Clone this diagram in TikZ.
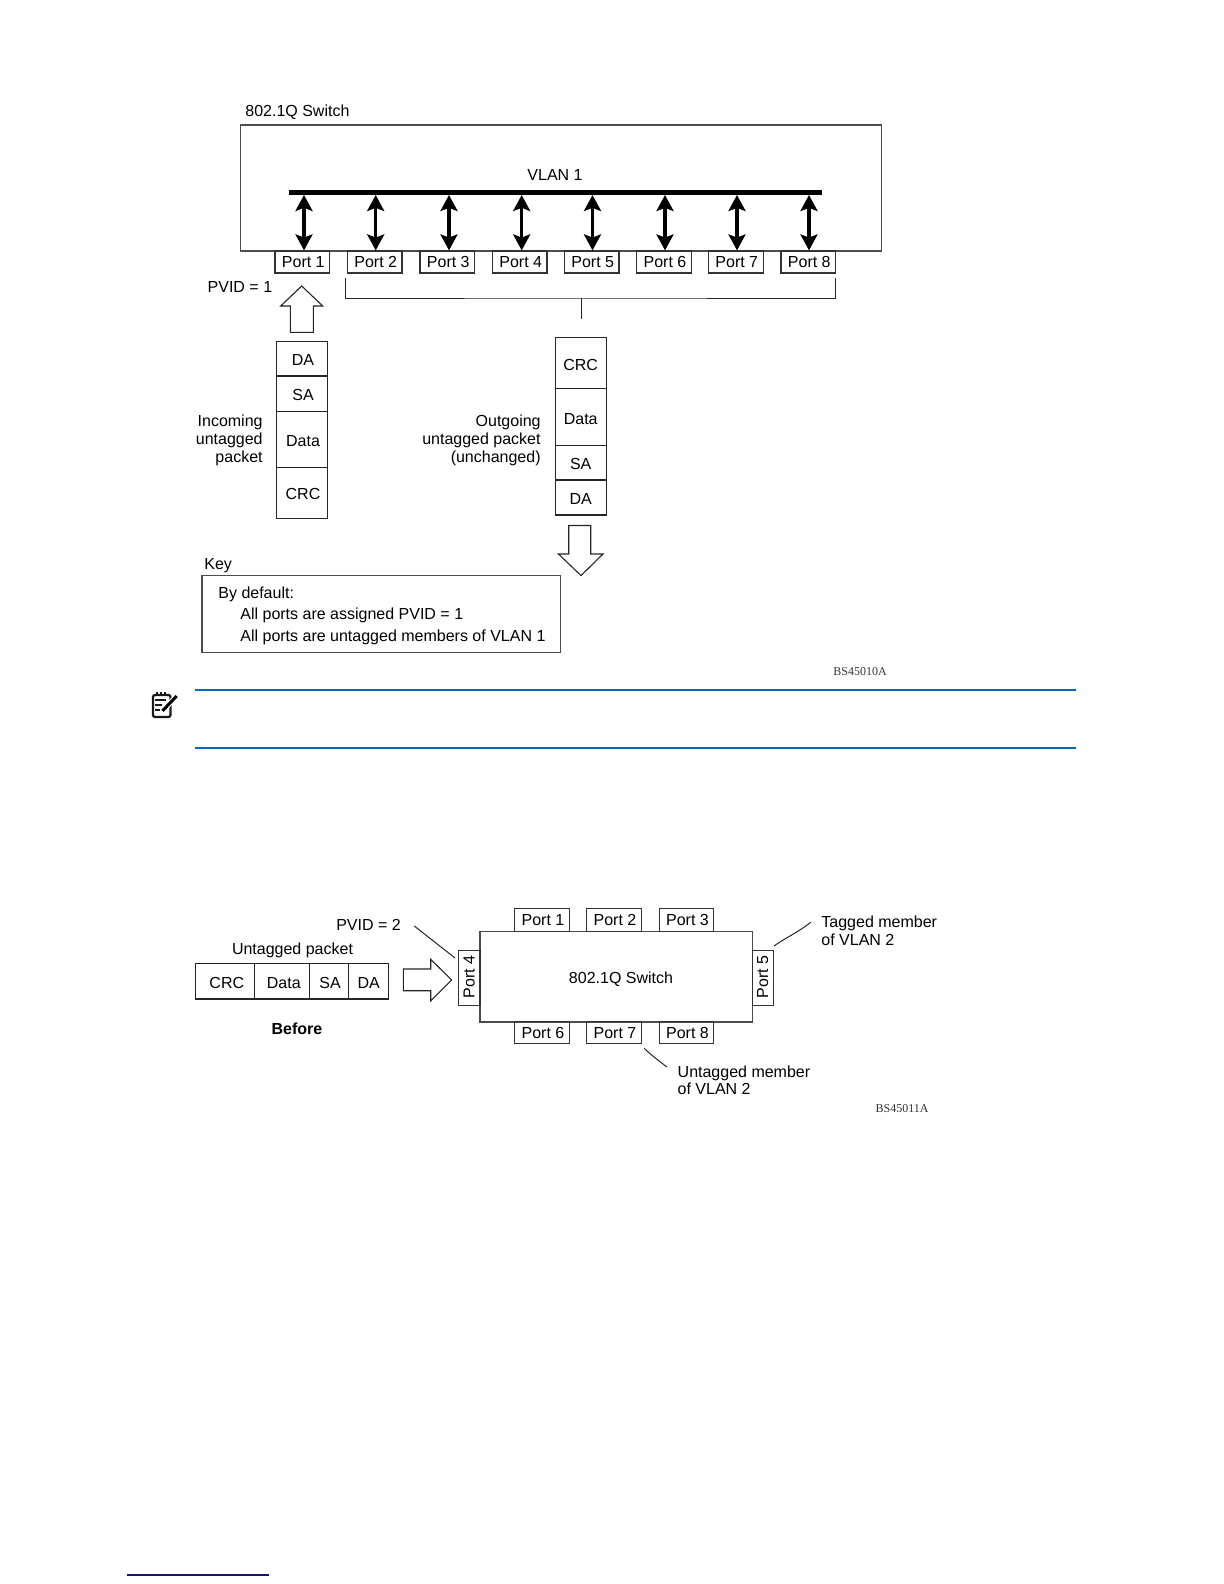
\documentclass[tikz,border=0pt]{standalone}
\usepackage{fontspec}
\setmainfont{Liberation Sans}
\newfontfamily\codefont{Liberation Serif}
\usetikzlibrary{arrows.meta}

\definecolor{noteblue}{RGB}{10,104,190}
\definecolor{footnavy}{RGB}{20,15,135}

\tikzset{
  lbl/.style={inner sep=0pt,font=\fontsize{8bp}{8.85bp}\selectfont},
  codelbl/.style={inner sep=0pt,font=\fontsize{6bp}{7bp}\selectfont\codefont,text=black!80},
  nudge/.style={execute at begin node={\kern#1}},
  portbox/.style={draw=black!80,line width=0.6bp,inner sep=0pt,minimum width=27.3bp,minimum height=11bp,font=\fontsize{8bp}{9bp}\selectfont,nudge=1bp},
  sideport/.style={portbox,rotate=90},
  cellbox/.style={draw=black!85,line width=0.6bp,inner sep=0pt,minimum width=25.4bp,text height=6.8bp,text depth=0pt,font=\fontsize{8bp}{9bp}\selectfont},
  swbox/.style={draw=black!70,line width=0.8bp,inner sep=0pt},
  busarrow/.style={{Stealth[length=8bp,width=8.5bp,inset=1.6bp]}-{Stealth[length=8bp,width=8.5bp,inset=1.6bp]},line width=1.7bp},
  thinline/.style={draw=black!85,line width=0.5bp},
  blockarrow/.style={draw=black!85,line width=0.55bp,fill=white,line join=miter},
  noterule/.style={draw=noteblue,line width=1bp}
}

\begin{document}
\begin{tikzpicture}[x=0.5bp,y=-0.5bp]
  \useasboundingbox (0,0) rectangle (1224,1584);

  % upper switch
  \node[lbl,anchor=west] (swtitle) at (245,112.5) {802.1Q Switch};
  \node[swbox,minimum width=320.5bp,minimum height=63bp] (sw) at (561,187.7) {};
  \node[lbl] (vlan) at (555,174.5) {VLAN 1};
  \node[minimum width=266.5bp,minimum height=2.2bp,inner sep=0pt,fill=black] (bus) at (555.5,192.3) {};

  \node[portbox] (port1) at (302.3,262) {Port 1};
  \node[portbox] (port2) at (374.7,262) {Port 2};
  \node[portbox] (port3) at (447.3,262) {Port 3};
  \node[portbox] (port4) at (519.7,262) {Port 4};
  \node[portbox] (port5) at (591.7,262) {Port 5};
  \node[portbox] (port6) at (664,262) {Port 6};
  \node[portbox] (port7) at (735.8,262) {Port 7};
  \node[portbox] (port8) at (808.3,262) {Port 8};

  \coordinate (tap1) at (304,195);
  \coordinate (tap2) at (375.7,195);
  \coordinate (tap3) at (449,195);
  \coordinate (tap4) at (521.7,195);
  \coordinate (tap5) at (592.5,195);
  \coordinate (tap6) at (665,195);
  \coordinate (tap7) at (737,195);
  \coordinate (tap8) at (809,195);

  \draw[busarrow,line width=2.4bp] (tap1) -- (tap1 |- port1.north);
  \draw[busarrow] (tap2) -- (tap2 |- port2.north);
  \draw[busarrow] (tap3) -- (tap3 |- port3.north);
  \draw[busarrow] (tap4) -- (tap4 |- port4.north);
  \draw[busarrow] (tap5) -- (tap5 |- port5.north);
  \draw[busarrow] (tap6) -- (tap6 |- port6.north);
  \draw[busarrow] (tap7) -- (tap7 |- port7.north);
  \draw[busarrow] (tap8) -- (tap8 |- port8.north);

  \node[lbl,anchor=west] (pvidone) at (207.3,287) {PVID = 1};

  % bracket over the outgoing packet
  \coordinate (brl) at (345,278);
  \coordinate (brr) at (835,278);
  \coordinate (brm) at (581,298);
  \coordinate (brend) at (581,318.7);
  \draw[thinline] (brl) |- (brm) -| (brr);
  \draw[thinline] (brm) -- (brend);

  % incoming packet
  \draw[blockarrow] (290.3,332.3) -- (290.3,306) -- (280.7,306) -- (301.7,286) -- (322.7,306) -- (313.3,306) -- (313.3,332.3) -- cycle;
  \node[cellbox,nudge=1bp,minimum height=17.35bp] (dain) at (302,358.6) {DA};
  \node[cellbox,nudge=1bp,minimum height=17.65bp] (sain) at (302,393.7) {SA};
  \node[cellbox,nudge=1bp,minimum height=28.2bp] (datain) at (302,439.5) {Data};
  \node[cellbox,nudge=1bp,minimum height=25.3bp] (crcin) at (302,493) {CRC};
  \node[lbl,anchor=east,align=right] (inlbl) at (263,440.3) {Incoming\\untagged\\packet};

  % outgoing packet
  \node[cellbox,minimum height=25.5bp] (crcout) at (580.7,363.2) {CRC};
  \node[cellbox,minimum height=28.5bp] (dataout) at (580.7,417.2) {Data};
  \node[cellbox,minimum height=17.15bp] (saout) at (580.7,462.9) {SA};
  \node[cellbox,minimum height=17.5bp] (daout) at (580.7,497.5) {DA};
  \node[lbl,anchor=east,align=right] (outlbl) at (541,440.3) {Outgoing\\untagged packet\\(unchanged)};
  \draw[blockarrow] (568.7,525.5) -- (568.7,554) -- (558.5,554) -- (581,575.6) -- (603,554) -- (590.7,554) -- (590.7,525.5) -- cycle;

  % key
  \node[lbl,anchor=west] (keylbl) at (204,565.5) {Key};
  \node[swbox,minimum width=179.2bp,minimum height=38.4bp] (keybox) at (381.2,614) {};
  \node[lbl,anchor=west] (keya) at (218,594) {By default:};
  \node[lbl,anchor=west] (keyb) at (240,615.5) {All ports are assigned PVID = 1};
  \node[lbl,anchor=west] (keyc) at (240,637.5) {All ports are untagged members of VLAN 1};
  \node[codelbl,anchor=west] (codea) at (833,671.5) {BS45010A};

  % note
  \coordinate (notea) at (195,689.7);
  \coordinate (noteb) at (1075.6,689.7);
  \coordinate (notec) at (195,747.7);
  \coordinate (noted) at (1075.6,747.7);
  \draw[noterule] (notea) -- (noteb);
  \draw[noterule] (notec) -- (noted);
  \draw[line width=1.1bp,rounded corners=1bp,black!90] (153,695) rectangle (170.5,717);
  \draw[line width=0.7bp,black!90] (155,700) -- (166,700) (155,705) -- (162,705) (155,710) -- (160,710);
  \draw[line width=1.1bp,dash pattern=on 1bp off 1bp,black!90] (156,693.5) -- (167,693.5);
  \draw[line width=2.6bp,white] (161.7,711.7) -- (176.7,696);
  \draw[line width=1.5bp,black] (162.5,710.8) -- (176.7,696);

  % lower switch
  \node[lbl] (pvidtwo) at (368.5,925) {PVID = 2};
  \node[lbl] (untag) at (292.5,950) {Untagged packet};
  \node[cellbox,nudge=2bp,minimum width=29.5bp,minimum height=17.85bp] (crcb) at (224.8,981.2) {CRC};
  \node[cellbox,nudge=2bp,minimum width=27.5bp,minimum height=17.85bp] (datab) at (281.8,981.2) {Data};
  \node[cellbox,nudge=1bp,minimum width=19.7bp,minimum height=17.85bp] (sab) at (329,981.2) {SA};
  \node[cellbox,minimum width=20bp,minimum height=17.85bp] (dab) at (368.7,981.2) {DA};
  \node[lbl,font=\fontsize{8bp}{9bp}\selectfont\bfseries] (before) at (297,1029) {Before};
  \draw[blockarrow] (403.3,969) -- (430.7,969) -- (430.7,959.3) -- (451.7,980) -- (430.7,1001) -- (430.7,990.7) -- (403.3,990.7) -- cycle;

  \node[swbox,minimum width=136.15bp,minimum height=45.35bp] (swb) at (616.15,976.65) {};
  \node[lbl] (swblbl) at (621,979.5) {802.1Q Switch};
  \node[portbox,minimum height=11.5bp] (pb1) at (542,919.8) {Port 1};
  \node[portbox,minimum height=11.5bp] (pb2) at (614,919.8) {Port 2};
  \node[portbox,minimum height=11.5bp] (pb3) at (686.5,919.8) {Port 3};
  \node[portbox,minimum height=11bp] (pb6) at (542,1032.8) {Port 6};
  \node[portbox,minimum height=11bp] (pb7) at (614,1032.8) {Port 7};
  \node[portbox,minimum height=11bp] (pb8) at (686.5,1032.8) {Port 8};
  \node[sideport,minimum height=10.65bp] (pb4) at (469.3,978) {Port 4};
  \node[sideport,minimum height=10.5bp] (pb5) at (762.8,978) {Port 5};

  \coordinate (pvidend) at (414.3,926);
  \coordinate (pb4end) at (455,958);
  \draw[thinline] (pvidend) -- (pb4end);

  \node[lbl,anchor=west,align=left] (taglbl) at (821,931) {Tagged member\\of VLAN 2};
  \coordinate (tagend) at (810.7,922.3);
  \coordinate (pb5end) at (774,946);
  \draw[thinline] (pb5end) .. controls (785,938) and (797,933) .. (tagend);

  \node[lbl,anchor=west,align=left] (untaglbl) at (677.3,1080.4) {Untagged member\\of VLAN 2};
  \coordinate (pb7end) at (644.3,1048.3);
  \coordinate (untagend) at (667,1067);
  \draw[thinline] (pb7end) .. controls (651,1055) and (659,1061) .. (untagend);
  \node[codelbl,anchor=west] (codeb) at (875.3,1109) {BS45011A};

  % footnote rule
  \coordinate (foota) at (127,1575);
  \coordinate (footb) at (269,1575);
  \draw[draw=footnavy,line width=0.75bp] (foota) -- (footb);
\end{tikzpicture}
\end{document}
